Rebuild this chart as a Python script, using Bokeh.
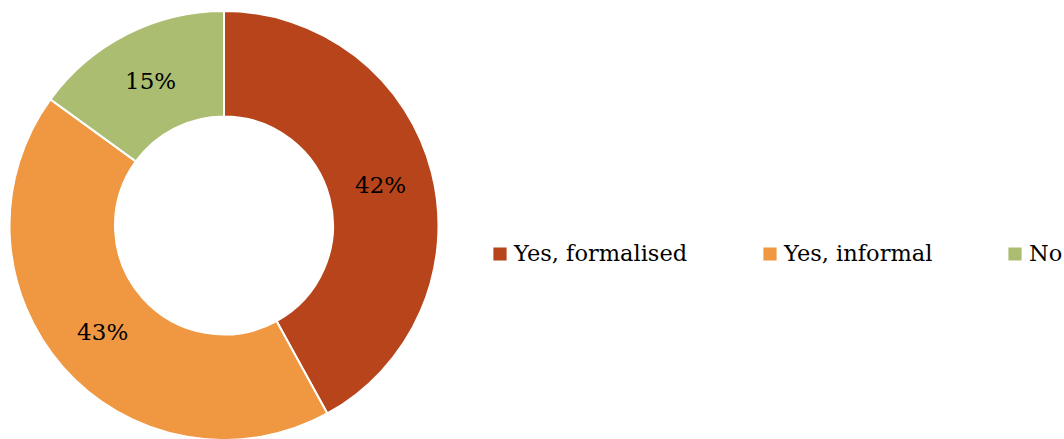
import numpy as np
from bokeh.plotting import figure
from bokeh.models import Range1d, ColumnDataSource, Legend, LegendItem
from bokeh.core.properties import value
from bokeh.embed import file_html
from bokeh.resources import INLINE

categories = ["Yes, formalised", "Yes, informal", "No"]
values = [42, 43, 15]
labels = ["42%", "43%", "15%"]
colors = ["#B7441A", "#EF9741", "#AABD70"]

W, H = 1064, 439
FONT = "DejaVu Serif"

p = figure(width=W, height=H, output_backend="svg", toolbar_location=None,
           x_range=Range1d(0, W), y_range=Range1d(0, H), min_border=0)
p.axis.visible = False
p.grid.visible = False
p.outline_line_color = None
p.background_fill_color = "white"

cx, cy = 223.5, H - 225
r_in, r_out = 109, 214.5

vals = np.array(values, dtype=float)
frac = vals / vals.sum()
cum = np.concatenate([[0], np.cumsum(frac)])
start = np.pi / 2 - cum[:-1] * 2 * np.pi
end = np.pi / 2 - cum[1:] * 2 * np.pi
mid = (start + end) / 2
r_mid = (r_in + r_out) / 2

src = ColumnDataSource(dict(x=[cx] * 3, y=[cy] * 3, start=start, end=end,
                            color=colors, cat=categories))
r = p.annular_wedge(x="x", y="y", inner_radius=r_in, outer_radius=r_out,
                    inner_radius_units="screen", outer_radius_units="screen",
                    start_angle="end", end_angle="start", fill_color="color",
                    line_color="white", line_width=2, source=src)

lsrc = ColumnDataSource(dict(x=cx + r_mid * np.cos(mid), y=cy + r_mid * np.sin(mid), t=labels))
p.text(x="x", y="y", text="t", source=lsrc, text_align="center", text_baseline="middle",
       text_font=value(FONT), text_font_size="23px", text_color="black")

legend_x = [490, 760, 1005]
for i, cat in enumerate(categories):
    lg = Legend(items=[LegendItem(label=cat, renderers=[r], index=i)],
                location=(legend_x[i], 173), orientation="horizontal",
                glyph_width=19, glyph_height=19, label_standoff=5,
                padding=0, margin=0, border_line_color=None,
                background_fill_alpha=0, label_text_font=FONT,
                label_text_font_size="22.5px", label_text_color="black",
                label_height=10)
    p.add_layout(lg)

open("out.html", "w").write(file_html(p, INLINE))
